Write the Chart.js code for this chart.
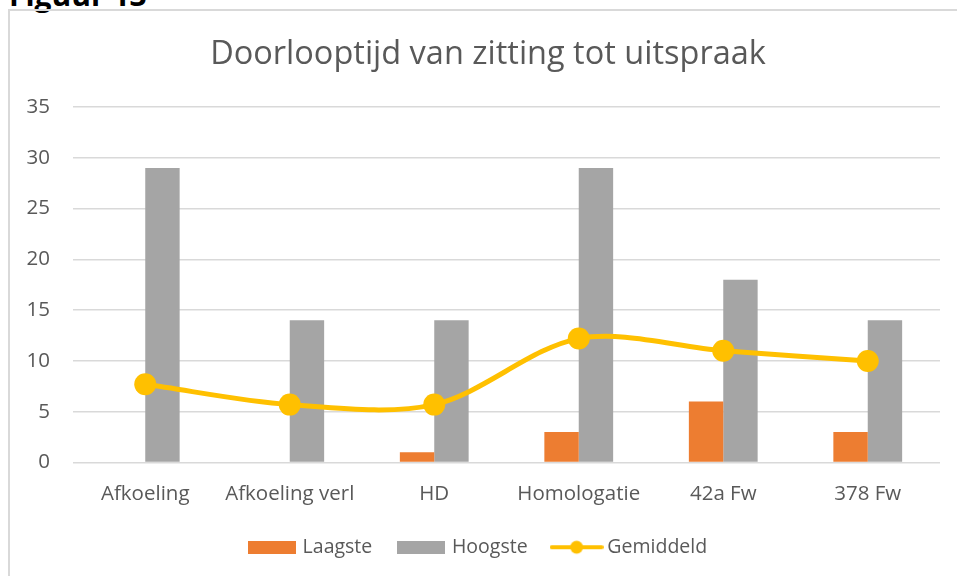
<!DOCTYPE html>
<html>
<head>
<meta charset="utf-8">
<script src="https://cdn.jsdelivr.net/npm/chart.js@4"></script>
<style>
  html, body { margin: 0; padding: 0; background: #fff; overflow: hidden; }
  #wrap { position: relative; width: 957px; height: 576px; overflow: hidden; }
  #caption { position: absolute; left: 9px; top: -20px; font: bold 30px/1 "Open Sans", sans-serif; color: #000; }
  #frame { position: absolute; left: 8px; top: 9px; width: 1200px; height: 1200px; border: 2px solid #d9d9d9; }
  #myChart { position: absolute; left: 0; top: 0; }
</style>
</head>
<body>
<div id="wrap">
  <div id="caption">Figuur 13</div>
  <div id="frame"></div>
  <canvas id="myChart" width="957" height="576"></canvas>
</div>
<script>
const categories = ['Afkoeling', 'Afkoeling verl', 'HD', 'Homologatie', '42a Fw', '378 Fw'];
const laagste = [0, 0, 1, 3, 6, 3];
const hoogste = [29, 14, 14, 29, 18, 14];
const gemiddeld = [7.7, 5.7, 5.7, 12.2, 11.0, 10.0];
const yTicks = [0, 5, 10, 15, 20, 25, 30, 35];

const ORANGE = '#ED7D31';
const GREY = '#A5A5A5';
const YELLOW = '#FFC000';
const TEXT = '#595959';
const FONT = '"Open Sans", sans-serif';

// legend swatches
function swatch(color) {
    const c = document.createElement('canvas');
    c.width = 48; c.height = 13;
    const g = c.getContext('2d');
    g.fillStyle = color;
    g.fillRect(0, 0, 48, 13);
    return c;
}
function lineSwatch() {
    const c = document.createElement('canvas');
    c.width = 54; c.height = 16;
    const g = c.getContext('2d');
    g.strokeStyle = YELLOW;
    g.lineWidth = 4;
    g.lineCap = 'round';
    g.beginPath();
    g.moveTo(2, 8); g.lineTo(52, 8);
    g.stroke();
    g.fillStyle = YELLOW;
    g.beginPath();
    g.arc(27, 8, 6.5, 0, Math.PI * 2);
    g.fill();
    return c;
}
const swatches = [swatch(ORANGE), swatch(GREY), lineSwatch()];

// title and legend sit a little right of the plot centre in the original
const shiftBlocks = {
    id: 'shiftBlocks',
    afterLayout(chart) {
        chart.titleBlock.left += 18;
        chart.titleBlock.right += 18;
        chart.legend.left += 9;
        chart.legend.right += 9;
    }
};

const ctx = document.getElementById('myChart');

new Chart(ctx, {
    type: 'bar',
    data: {
        labels: categories,
        datasets: [
            {
                label: 'Laagste',
                data: laagste,
                backgroundColor: ORANGE,
                categoryPercentage: 0.476,
                barPercentage: 1,
                order: 2
            },
            {
                label: 'Hoogste',
                data: hoogste,
                backgroundColor: GREY,
                categoryPercentage: 0.476,
                barPercentage: 1,
                order: 2
            },
            {
                type: 'line',
                label: 'Gemiddeld',
                data: gemiddeld,
                borderColor: YELLOW,
                backgroundColor: YELLOW,
                borderWidth: 5,
                tension: 0.32,
                pointRadius: 11,
                pointBorderWidth: 0,
                pointBackgroundColor: YELLOW,
                order: 1
            }
        ]
    },
    plugins: [shiftBlocks],
    options: {
        responsive: false,
        animation: false,
        maintainAspectRatio: false,
        layout: { padding: { left: 0, right: 17, top: 0, bottom: 9 } },
        plugins: {
            title: {
                display: true,
                text: 'Doorlooptijd van zitting tot uitspraak',
                color: TEXT,
                font: { family: FONT, size: 32.5, weight: 'normal' },
                padding: { top: 35.5, bottom: 32.5 }
            },
            legend: {
                position: 'bottom',
                labels: {
                    usePointStyle: true,
                    pointStyleWidth: 42,
                    boxHeight: 13,
                    padding: 28,
                    color: TEXT,
                    font: { family: FONT, size: 19.5 },
                    generateLabels: function (chart) {
                        return chart.data.datasets.map(function (ds, i) {
                            return {
                                text: ds.label,
                                pointStyle: swatches[i],
                                fillStyle: 'transparent',
                                strokeStyle: 'transparent',
                                lineWidth: 0,
                                fontColor: TEXT,
                                datasetIndex: i,
                                hidden: false
                            };
                        });
                    }
                }
            },
            tooltip: { enabled: false }
        },
        scales: {
            x: {
                grid: { display: false, drawTicks: false },
                border: { display: false },
                ticks: {
                    color: TEXT,
                    font: { family: FONT, size: 20.5 },
                    padding: 19
                },
                afterFit: function (scale) { scale.height = 47; }
            },
            y: {
                min: 0,
                max: 35,
                afterBuildTicks: function (scale) {
                    scale.ticks = yTicks.map(function (v) { return { value: v }; });
                },
                grid: { color: '#d9d9d9', lineWidth: 1.5, drawTicks: false },
                border: { display: false },
                ticks: {
                    color: TEXT,
                    font: { family: FONT, size: 20.5 },
                    padding: 23
                },
                afterFit: function (scale) { scale.width = 73; }
            }
        }
    }
});
</script>
</body>
</html>
